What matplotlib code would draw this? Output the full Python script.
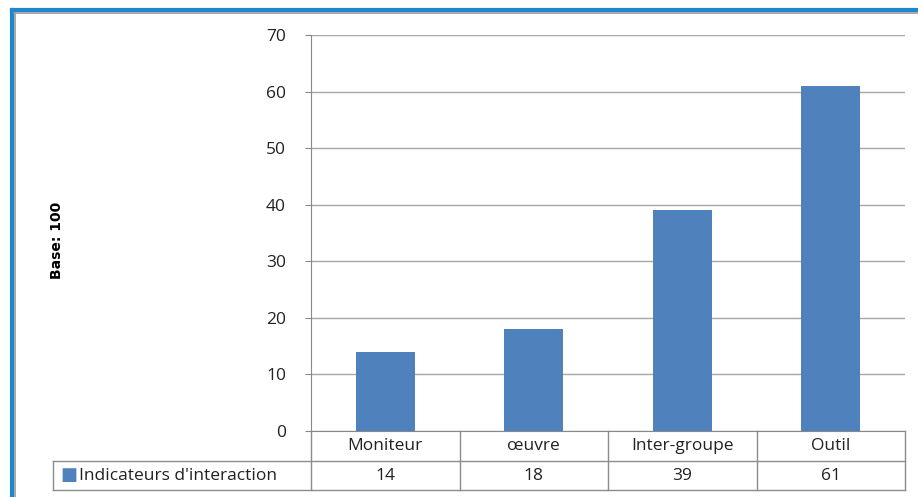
import numpy as np
import matplotlib.pyplot as plt
from matplotlib.lines import Line2D

categories = ['Moniteur', 'œuvre', 'Inter-groupe', 'Outil']
values = [14, 18, 39, 61]
series_name = "Indicateurs d'interaction"
yticks = [0, 10, 20, 30, 40, 50, 60, 70]

plt.rcParams['font.family'] = ['Open Sans', 'DejaVu Sans']
W, H = 918, 497
fig = plt.figure(figsize=(W / 100, H / 100), dpi=100)

# plot area in pixels
px_l, px_r, px_t, px_b = 311, 905, 35, 431
ax = fig.add_axes([px_l / W, 1 - px_b / H, (px_r - px_l) / W, (px_b - px_t) / H])

x = np.arange(len(categories))
ax.bar(x, values, width=0.4, color='#4f81bd', zorder=3)
ax.set_xlim(-0.5, len(categories) - 0.5)
ax.set_ylim(0, 70)
ax.set_yticks(yticks)
ax.tick_params(axis='y', labelsize=12.5, length=4, color='#888888', pad=14, labelcolor='#222222')
ax.set_xticks([])
ax.yaxis.grid(True, color='#a6a6a6', linewidth=1, zorder=0)
for s in ['top', 'right']:
    ax.spines[s].set_visible(False)
ax.spines['left'].set_color('#888888')
ax.spines['bottom'].set_color('#888888')

# data table under the axis
tr = ax.get_xaxis_transform()
gray = '#8c8c8c'
y0, y1, y2 = 0, -30 / 396, -59 / 396
legend_left = (53 - px_l) / (px_r - px_l) * 4 - 0.5
for xb in np.arange(-0.5, len(categories), 1.0):
    ax.add_line(Line2D([xb, xb], [y0, y2], transform=tr, color=gray, lw=1, clip_on=False))
ax.add_line(Line2D([legend_left, 3.5], [y1, y1], transform=tr, color=gray, lw=1, clip_on=False))
ax.add_line(Line2D([legend_left, 3.5], [y2, y2], transform=tr, color=gray, lw=1, clip_on=False))
ax.add_line(Line2D([legend_left, legend_left], [y1, y2], transform=tr, color=gray, lw=1, clip_on=False))
for i, (c, v) in enumerate(zip(categories, values)):
    ax.text(i, (y0 + y1) / 2, c, transform=tr, ha='center', va='center', fontsize=12.5, color='#222222')
    ax.text(i, (y1 + y2) / 2, str(v), transform=tr, ha='center', va='center', fontsize=12.5, color='#222222')
ax.text(legend_left + 0.05, (y1 + y2) / 2, '\u25A0', transform=tr, ha='left', va='center',
        fontsize=13, color='#4f81bd', family='DejaVu Sans')
ax.text(legend_left + 0.175, (y1 + y2) / 2, series_name, transform=tr, ha='left', va='center',
        fontsize=12.5, color='#222222')

# axis title
fig.text(57 / W, 1 - 240 / H, 'Base: 100', rotation=90, ha='center', va='center',
         fontsize=10, fontweight='bold', family=['Liberation Sans Narrow', 'DejaVu Sans'])

# window frame
for xs, ys, c, lw in [([12, W], [10, 10], '#1f86d0', 3), ([12, 12], [10, H], '#1f86d0', 3),
                      ([14, W], [13, 13], '#9a9a9a', 1.2), ([15, 15], [13, H], '#9a9a9a', 1.2)]:
    fig.add_artist(Line2D([v / W for v in xs], [1 - v / H for v in ys], color=c, lw=lw))

fig.savefig('out.png', dpi=100)
